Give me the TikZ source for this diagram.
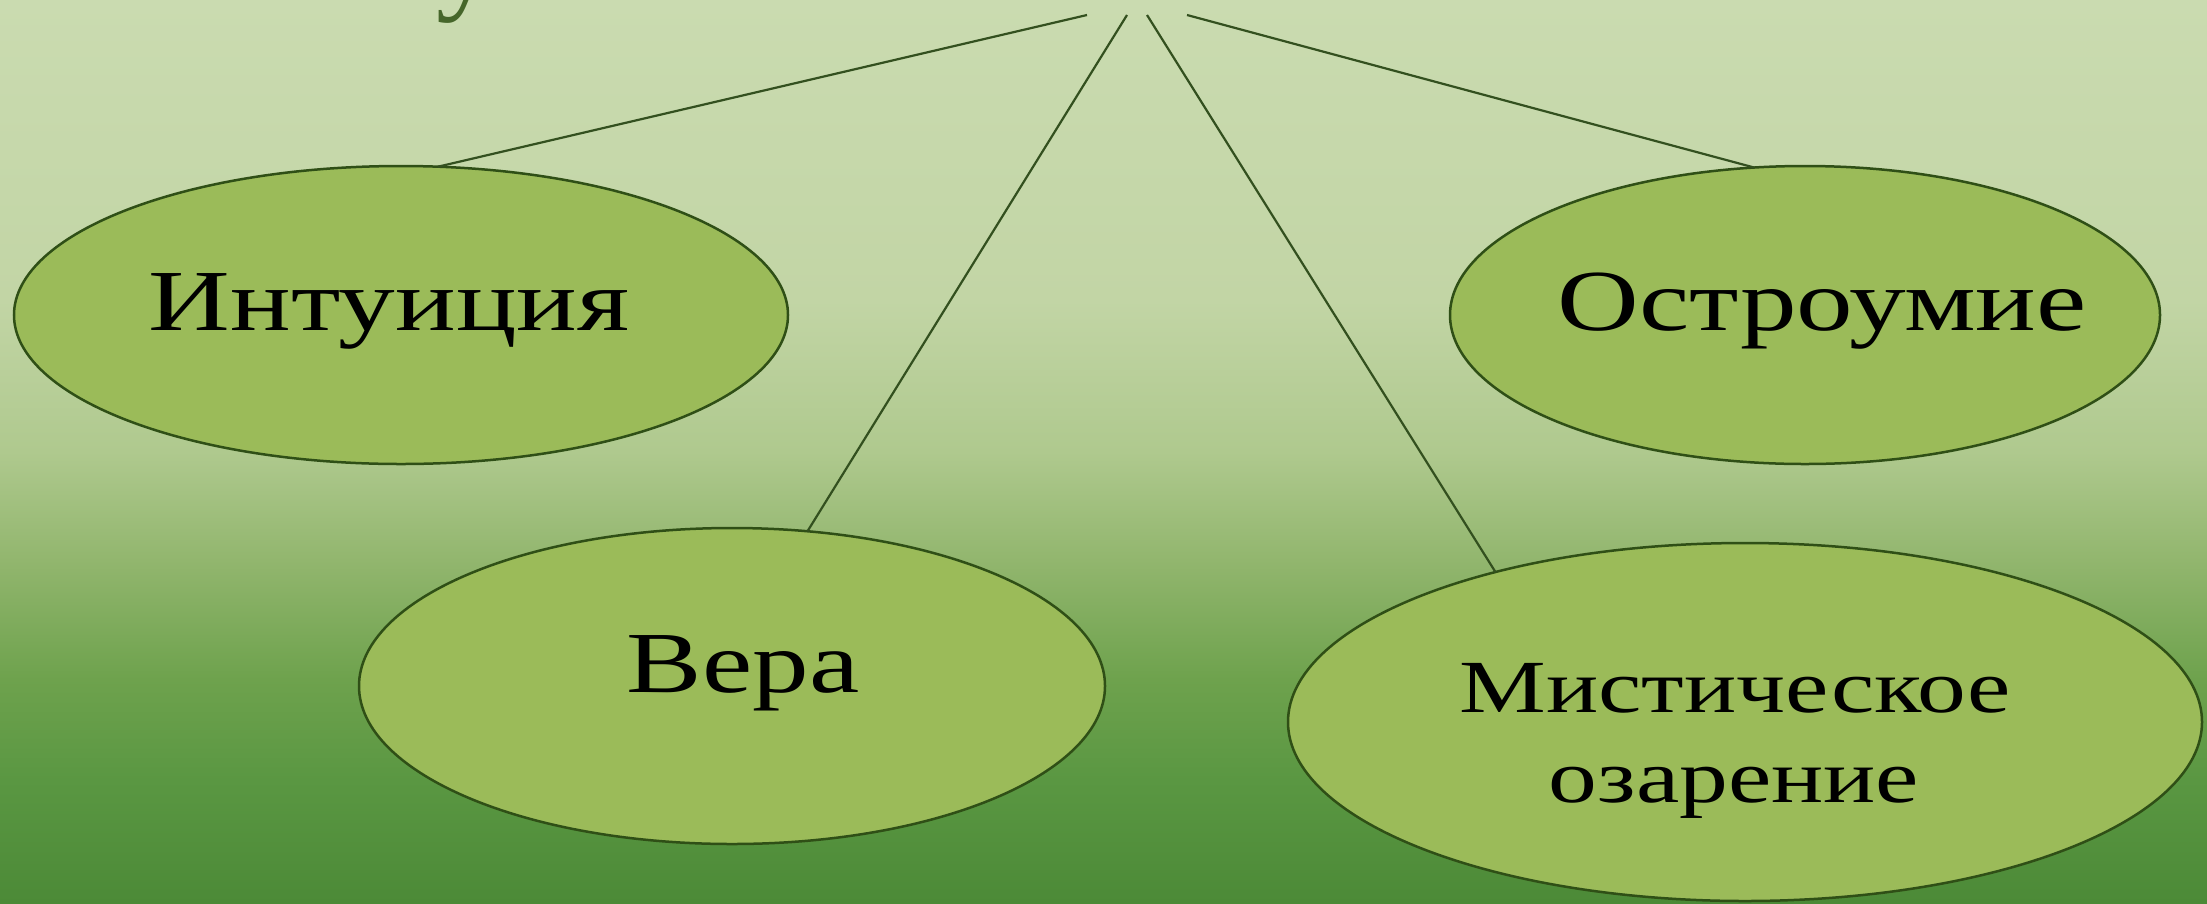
\documentclass[tikz,border=0pt]{standalone}
\usepackage{fontspec}
\setmainfont{Liberation Serif}
\usetikzlibrary{shapes.geometric}
\definecolor{bgA}{HTML}{4C8A37}
\definecolor{bgB}{HTML}{5A9742}
\definecolor{bgC}{HTML}{6EA24D}
\definecolor{bgD}{HTML}{92B66E}
\definecolor{bgE}{HTML}{AFC98E}
\definecolor{bgF}{HTML}{C2D5A5}
\definecolor{bgG}{HTML}{CADBB0}
\definecolor{bubblefill}{HTML}{9BBB59}
\definecolor{bubbleline}{HTML}{2F4F16}
\definecolor{connline}{HTML}{33501F}
\definecolor{titlegreen}{HTML}{46662A}
\pgfdeclareverticalshading{bgshade}{100bp}{color(0bp)=(bgA);color(25bp)=(bgA);color(31.8bp)=(bgB);color(37.4bp)=(bgC);color(44bp)=(bgD);color(50bp)=(bgE);color(58.4bp)=(bgF);color(75bp)=(bgG);color(100bp)=(bgG)}
\newcommand{\widetext}[1]{\scalebox{1.3}[1]{#1}}
\begin{document}
\begin{tikzpicture}[x=1pt,y=-1pt,
  bubble/.style={ellipse, draw=bubbleline, line width=2.5pt, fill=bubblefill, inner sep=0pt, outer sep=0pt},
  bigtext/.style={anchor=base, inner sep=0pt, text=black, font=\fontsize{87}{100}\selectfont},
  smalltext/.style={anchor=base, inner sep=0pt, text=black, font=\fontsize{75}{90}\selectfont},
  conn/.style={draw=connline, line width=2.2pt}]
\useasboundingbox (0,0) rectangle (2207,903);
\shade[shading=bgshade] (0,0) rectangle (2207,903);
\begin{scope}
\clip (0,0) rectangle (2207,903);
\node[anchor=base west, inner sep=0pt, text=titlegreen, font=\fontsize{120}{130}\selectfont] (ttl) at (436,-3) {у};
\end{scope}
\node[bubble, minimum width=774pt, minimum height=298pt] (int) at (401,315) {};
\node[bubble, minimum width=710pt, minimum height=298pt] (ost) at (1805,315) {};
\node[bubble, minimum width=746pt, minimum height=316pt] (ver) at (732,686) {};
\node[bubble, minimum width=914pt, minimum height=358pt] (mys) at (1745,722) {};
\node[bigtext] (intT) at (389,330) {\widetext{Интуиция}};
\node[bigtext] (ostT) at (1822,330) {\widetext{Остроумие}};
\node[bigtext] (verT) at (743,692) {\widetext{Вера}};
\node[smalltext] (mysT1) at (1735,712) {\widetext{Мистическое}};
\node[smalltext] (mysT2) at (1734,802) {\widetext{озарение}};
\coordinate (t1) at (1087,15);
\coordinate (t2) at (1127,15);
\coordinate (t3) at (1147,15);
\coordinate (t4) at (1187,15);
\draw[conn] (t1) -- (int.76.8);
\draw[conn] (t2) -- (ver.64);
\draw[conn] (t3) -- (mys.149.7);
\draw[conn] (t4) -- (ost.109.6);
\end{tikzpicture}
\end{document}
